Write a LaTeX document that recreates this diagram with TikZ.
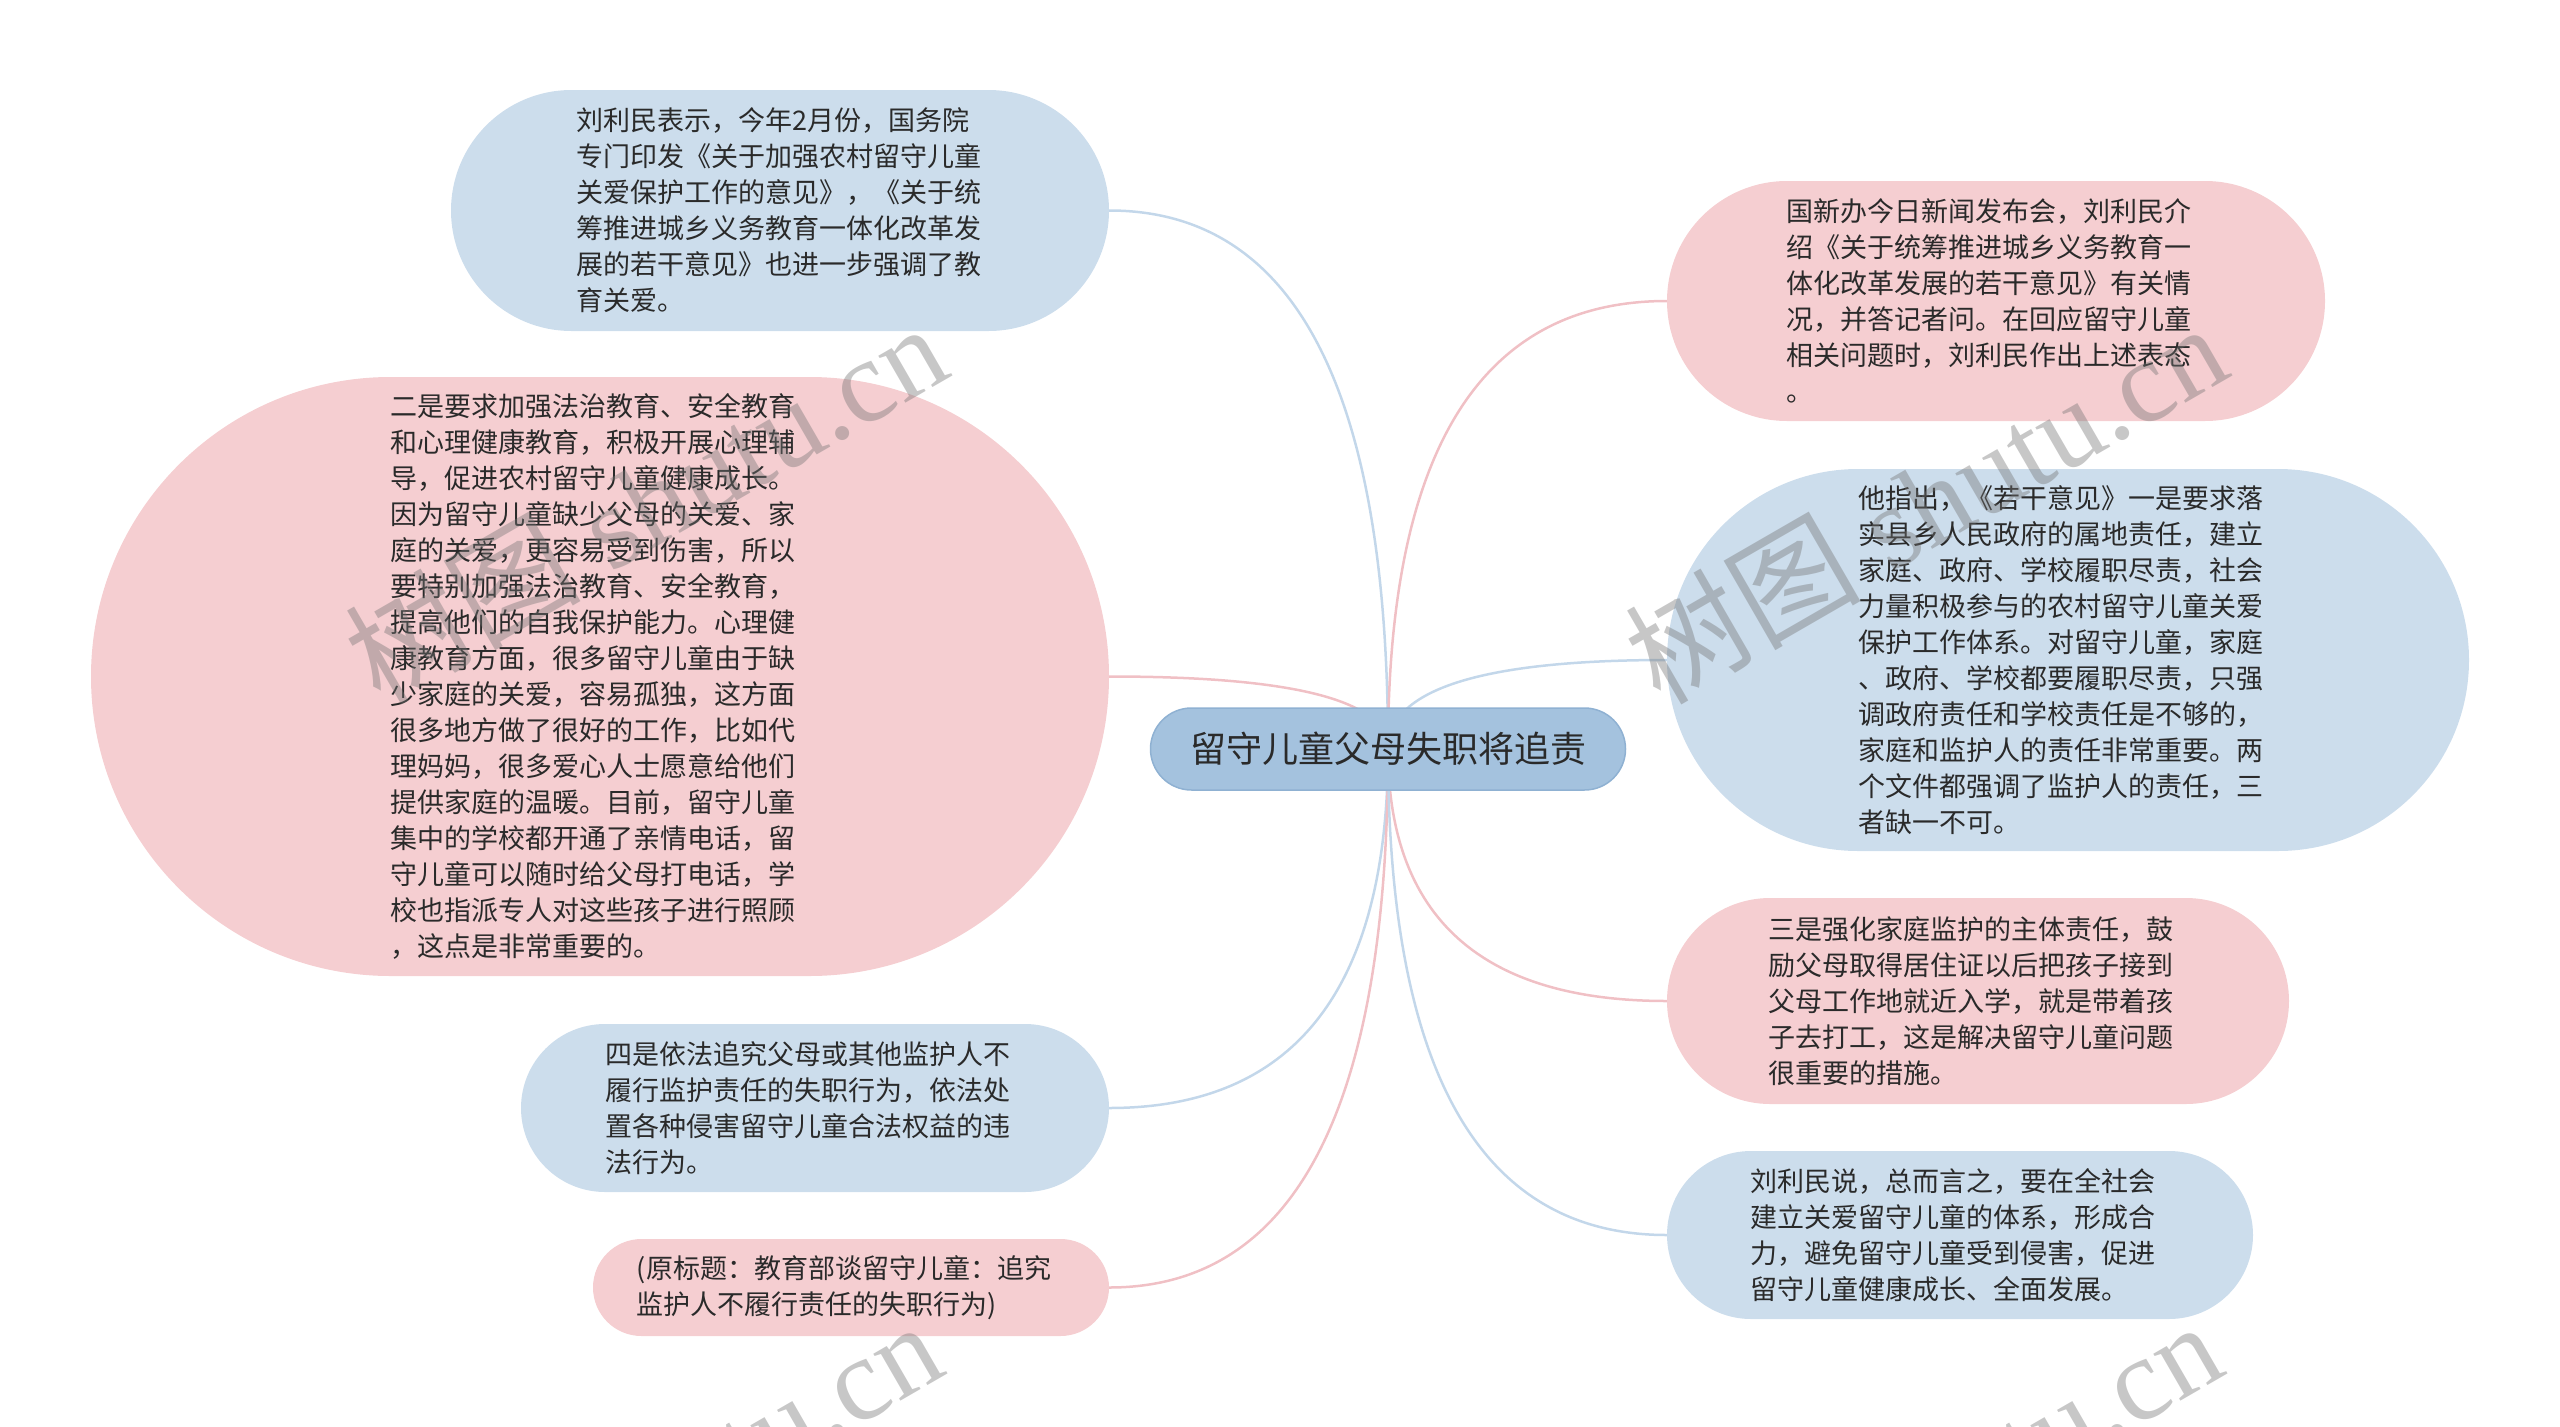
\documentclass[tikz,border=0pt]{standalone}
\usepackage{fontspec}
\setmainfont{Noto Sans CJK SC}
\newfontfamily\wmserif{Liberation Serif}
\usetikzlibrary{shapes.misc,calc}
\pgfdeclarelayer{background}
\pgfsetlayers{background,main}
\definecolor{pinkfill}{HTML}{F5CED1}
\definecolor{bluefill}{HTML}{CCDDEC}
\definecolor{rootfill}{HTML}{A4C2DE}
\definecolor{rootdraw}{HTML}{8FB1D2}
\definecolor{pinkline}{HTML}{F0C0C5}
\definecolor{blueline}{HTML}{C3D7EA}
\definecolor{txt}{HTML}{2A2A2A}
\newcommand\mmlink[3]{%
  \coordinate (tmpk) at (root.center |- #2.#3);
  \draw[#1] (root.center) .. controls ($(root.center)!0.667!(tmpk)$) and ($(#2.#3)!0.667!(tmpk)$) .. (#2.#3);
}
\newcommand\padr{\hspace*{14pt}}
\begin{document}
\begin{tikzpicture}[x=1pt,y=-1pt,
  box/.style={rounded rectangle, inner sep=0pt, align=left, text=txt, font=\fontsize{27}{36}\selectfont},
  pinkbox/.style={box, fill=pinkfill},
  bluebox/.style={box, fill=bluefill},
  rootbox/.style={rounded rectangle, inner sep=0pt, fill=rootfill, draw=rootdraw, line width=1.5pt, text=txt, font=\fontsize{36}{42}\selectfont},
  pinklink/.style={draw=pinkline, line width=2.5pt},
  bluelink/.style={draw=blueline, line width=2.5pt},
  wm/.style={rotate=30, text=black!55, text opacity=0.4, inner sep=0pt, font=\fontsize{118}{118}\selectfont}
]
\useasboundingbox (0,0) rectangle (2560,1427);

\node[rootbox, minimum width=475pt, minimum height=82pt] (root) at (1388,749) {留守儿童父母失职将追责};

\node[bluebox, minimum width=658pt, minimum height=241pt] (L1) at (780,210.5) {刘利民表示，今年2月份，国务院\padr\\专门印发《关于加强农村留守儿童\padr\\关爱保护工作的意见》，《关于统\\筹推进城乡义务教育一体化改革发\\展的若干意见》也进一步强调了教\\育关爱。};

\node[pinkbox, minimum width=1018pt, minimum height=599pt] (L2) at (600,676.5) {二是要求加强法治教育、安全教育\padr\\和心理健康教育，积极开展心理辅\\导，促进农村留守儿童健康成长。\\因为留守儿童缺少父母的关爱、家\\庭的关爱，更容易受到伤害，所以\\要特别加强法治教育、安全教育，\\提高他们的自我保护能力。心理健\\康教育方面，很多留守儿童由于缺\\少家庭的关爱，容易孤独，这方面\\很多地方做了很好的工作，比如代\\理妈妈，很多爱心人士愿意给他们\\提供家庭的温暖。目前，留守儿童\\集中的学校都开通了亲情电话，留\\守儿童可以随时给父母打电话，学\\校也指派专人对这些孩子进行照顾\\，这点是非常重要的。};

\node[bluebox, minimum width=588pt, minimum height=168pt] (L3) at (815,1108) {四是依法追究父母或其他监护人不\padr\\履行监护责任的失职行为，依法处\\置各种侵害留守儿童合法权益的违\\法行为。};

\node[pinkbox, minimum width=516pt, minimum height=97pt] (L4) at (851,1287.5) {(原标题：教育部谈留守儿童：追究\padr\\监护人不履行责任的失职行为)};

\node[pinkbox, minimum width=658pt, minimum height=240pt] (R1) at (1996,301) {国新办今日新闻发布会，刘利民介\padr\\绍《关于统筹推进城乡义务教育一\\体化改革发展的若干意见》有关情\\况，并答记者问。在回应留守儿童\\相关问题时，刘利民作出上述表态\\。};

\node[bluebox, minimum width=802pt, minimum height=382pt] (R2) at (2068,660) {他指出，《若干意见》一是要求落\padr\\实县乡人民政府的属地责任，建立\\家庭、政府、学校履职尽责，社会\\力量积极参与的农村留守儿童关爱\\保护工作体系。对留守儿童，家庭\\、政府、学校都要履职尽责，只强\\调政府责任和学校责任是不够的，\\家庭和监护人的责任非常重要。两\\个文件都强调了监护人的责任，三\\者缺一不可。};

\node[pinkbox, minimum width=622pt, minimum height=206pt] (R3) at (1978,1001) {三是强化家庭监护的主体责任，鼓\padr\\励父母取得居住证以后把孩子接到\\父母工作地就近入学，就是带着孩\\子去打工，这是解决留守儿童问题\\很重要的措施。};

\node[bluebox, minimum width=586pt, minimum height=168pt] (R4) at (1960,1235) {刘利民说，总而言之，要在全社会\padr\\建立关爱留守儿童的体系，形成合\\力，避免留守儿童受到侵害，促进\\留守儿童健康成长、全面发展。};

\begin{pgfonlayer}{background}
\mmlink{bluelink}{L1}{east}
\mmlink{pinklink}{L2}{east}
\mmlink{bluelink}{L3}{east}
\mmlink{pinklink}{L4}{east}
\mmlink{pinklink}{R1}{west}
\mmlink{bluelink}{R2}{west}
\mmlink{pinklink}{R3}{west}
\mmlink{bluelink}{R4}{west}
\end{pgfonlayer}

\node[wm] (wm1) at (645,502) {树图\wmserif\ shutu.cn};
\node[wm] (wm2) at (1925,502) {树图\wmserif\ shutu.cn};
\node[wm] (wm3) at (640,1500) {树图\wmserif\ shutu.cn};
\node[wm] (wm4) at (1920,1500) {树图\wmserif\ shutu.cn};
\end{tikzpicture}
\end{document}
